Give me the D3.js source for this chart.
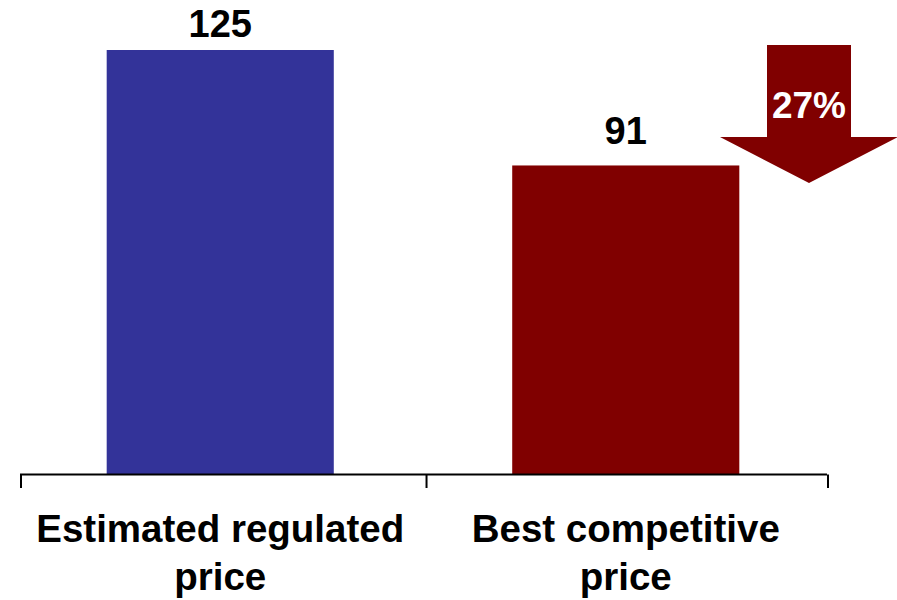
<!DOCTYPE html>
<html>
<head>
<meta charset="utf-8">
<script src="https://cdn.jsdelivr.net/npm/d3@7"></script>
<style>
  html, body { margin: 0; padding: 0; background: #fff; }
  svg { display: block; font-family: "Liberation Sans", Arial, sans-serif; }
</style>
</head>
<body>
<svg id="chart" width="897" height="600"></svg>
<script>
// Price comparison: regulated vs best competitive
const categories = ["Estimated regulated price", "Best competitive price"];
const labelLines = [["Estimated regulated", "price"], ["Best competitive", "price"]];
const values = [125, 91];
const colors = ["#333399", "#800000"];

const svg = d3.select("#chart");
const baseY = 474.5;

const x = d3.scaleBand()
  .domain(categories)
  .range([20, 827])
  .paddingInner(0.44)
  .paddingOuter(0.215);

const y = d3.scaleLinear()
  .domain([0, 125])
  .range([baseY, 50]);

const barX = c => x(c) - 0.5;
const barW = x.bandwidth();

// bars
svg.selectAll("rect.bar")
  .data(values)
  .join("rect")
  .attr("class", "bar")
  .attr("x", (d, i) => barX(categories[i]))
  .attr("y", d => y(d))
  .attr("width", barW)
  .attr("height", d => baseY - y(d))
  .attr("fill", (d, i) => colors[i]);

// value labels
svg.selectAll("text.val")
  .data(values)
  .join("text")
  .attr("class", "val")
  .attr("x", (d, i) => barX(categories[i]) + barW / 2)
  .attr("y", d => Math.max(y(d) - 21, 37))
  .attr("text-anchor", "middle")
  .attr("font-size", 38)
  .attr("font-weight", "bold")
  .attr("fill", "#000")
  .text(d => d);

// category axis with ticks at band boundaries
const step = x.step();
const edges = [x.range()[0], x.range()[0] + step, x.range()[1]];
const axis = svg.append("g").attr("stroke", "#000").attr("stroke-width", 2);
axis.append("line")
  .attr("x1", x.range()[0]).attr("x2", x.range()[1])
  .attr("y1", baseY).attr("y2", baseY);
axis.selectAll("line.tick")
  .data(edges)
  .join("line")
  .attr("class", "tick")
  .attr("x1", d => d + 1).attr("x2", d => d + 1)
  .attr("y1", baseY).attr("y2", 488);

// category labels (two lines each)
const catG = svg.selectAll("text.cat")
  .data(categories)
  .join("text")
  .attr("class", "cat")
  .attr("text-anchor", "middle")
  .attr("font-size", 38.5)
  .attr("font-weight", "bold")
  .attr("fill", "#000");
catG.selectAll("tspan")
  .data((d, i) => labelLines[i].map(t => ({ t, c: d })))
  .join("tspan")
  .attr("x", d => barX(d.c) + barW / 2)
  .attr("y", (d, j) => 542 + j * 48)
  .text(d => d.t);

// percentage drop arrow
const drop = Math.round((values[0] - values[1]) / values[0] * 100);
const cx = 809;
const shaftHalf = 42, headHalf = 89;
const topY = 45, headY = 137, tipY = 183;
const arrow = [
  [cx - shaftHalf, topY], [cx + shaftHalf, topY], [cx + shaftHalf, headY],
  [cx + headHalf, headY], [cx, tipY], [cx - headHalf, headY],
  [cx - shaftHalf, headY]
];
svg.append("path")
  .attr("d", d3.line()(arrow) + "Z")
  .attr("fill", "#800000");
svg.append("text")
  .attr("x", cx)
  .attr("y", 118)
  .attr("text-anchor", "middle")
  .attr("font-size", 37)
  .attr("font-weight", "bold")
  .attr("fill", "#fff")
  .text(drop + "%");
</script>
</body>
</html>
